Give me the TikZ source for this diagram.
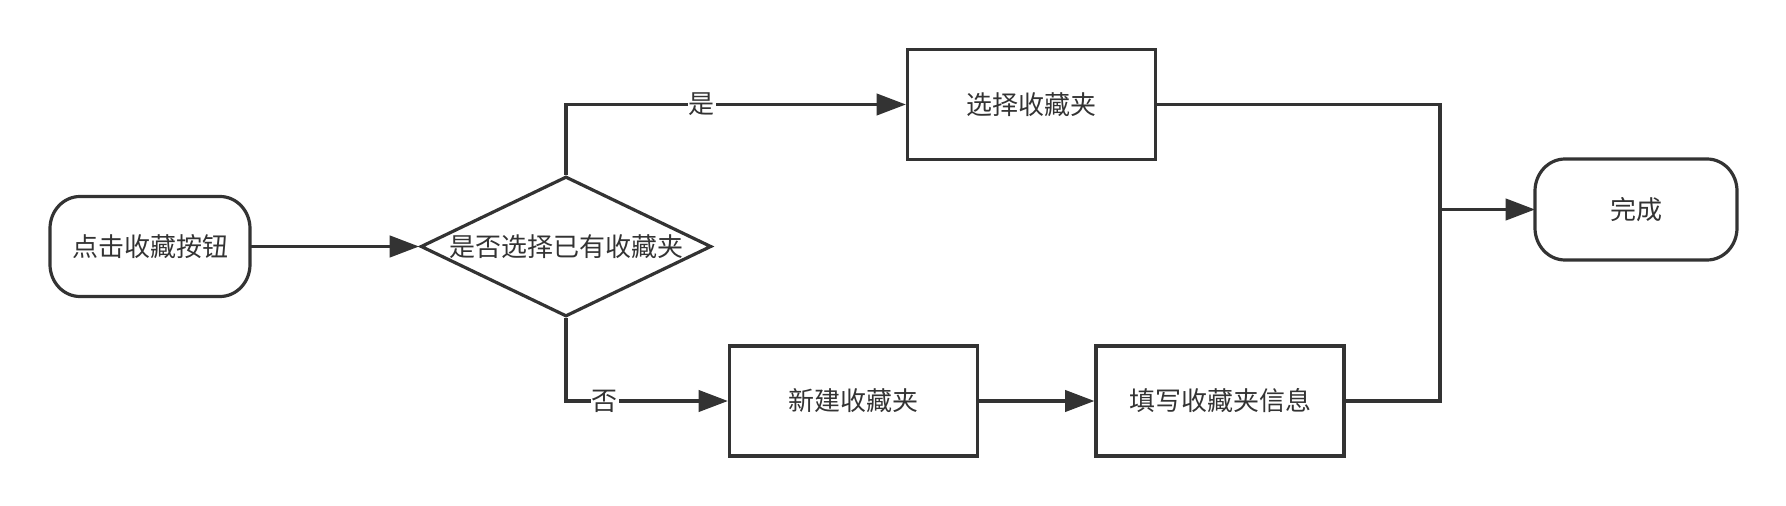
\documentclass[tikz,border=0pt]{standalone}
\usepackage{fontspec}
\setmainfont{Noto Sans CJK SC}
\usetikzlibrary{arrows.meta,shapes.geometric}
\definecolor{ink}{HTML}{333333}
\newcommand{\stadiumoutline}[1]{%
  \draw[line] ([xshift=22.5pt]#1.north west) -- ([xshift=-22.5pt]#1.north east)
    arc[start angle=90, end angle=0, x radius=22.5pt, y radius=24pt]
    -- ([yshift=24pt]#1.south east)
    arc[start angle=0, end angle=-90, x radius=22.5pt, y radius=24pt]
    -- ([xshift=22.5pt]#1.south west)
    arc[start angle=270, end angle=180, x radius=22.5pt, y radius=24pt]
    -- ([yshift=-24pt]#1.north west)
    arc[start angle=180, end angle=90, x radius=22.5pt, y radius=24pt] -- cycle;}
\begin{document}
\begin{tikzpicture}[x=0.75pt,y=-0.75pt,
  every node/.style={font=\fontsize{19.5}{23}\selectfont, text=ink},
  line/.style={draw=ink, line width=2.4pt},
  arr/.style={line, -{Triangle[length=22pt,width=16pt]}},
  term/.style={minimum width=150pt, minimum height=75pt, inner sep=0pt, outer sep=0pt},
  proc/.style={line, minimum width=186pt, minimum height=82.5pt, inner sep=0pt},
  decide/.style={line, diamond, minimum width=218pt, minimum height=105pt, inner sep=0pt, shape aspect=2.08},
  lbl/.style={fill=white, inner sep=1pt}
]
\useasboundingbox (0,0) rectangle (1786,506);
\node[term] (start) at (150,246.5) {点击收藏按钮};
\stadiumoutline{start}
\node[decide] (dia) at (566,246.5) {是否选择已有收藏夹};
\node[proc] (sel) at (1031.5,104.5) {选择收藏夹};
\node[proc] (new) at (853.5,401) {新建收藏夹};
\node[proc] (info) at (1220,401) {填写收藏夹信息};
\node[term, minimum width=151.5pt, minimum height=75.75pt] (done) at (1636,209.5) {完成};
\stadiumoutline{done}
\coordinate (m) at (1440,209.5);

\draw[arr] (start.east) -- (dia.west);
\draw[arr] (dia.north) |- node[lbl, pos=0.7] {是} (sel.west);
\draw[arr] (dia.south) |- node[lbl, pos=0.62] {否} (new.west);
\draw[arr] (new.east) -- (info.west);
\draw[line] (sel.east) -| (m);
\draw[line] (info.east) -| (m);
\draw[arr] (m) -- (done.west);
\end{tikzpicture}
\end{document}
